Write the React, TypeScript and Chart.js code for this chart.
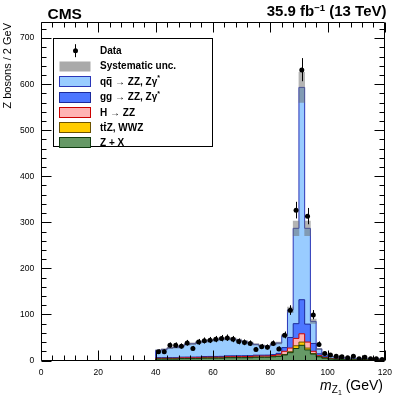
import React, { useEffect, useRef } from "react";
import { Chart, registerables } from "chart.js";

Chart.register(...registerables);

// ---------- data ----------
const binLow = [40, 42, 44, 46, 48, 50, 52, 54, 56, 58, 60, 62, 64, 66, 68, 70, 72, 74, 76, 78,
  80, 82, 84, 86, 88, 90, 92, 94, 96, 98, 100, 102, 104, 106, 108, 110, 112, 114, 116, 118];
const binWidth = 2;

const dataCounts = [19, 19, 33, 33, 31, 38, 26, 40, 43, 44, 46, 48, 49, 46, 41, 39, 37, 24, 30, 29,
  37, 25, 55, 109, 326, 631, 313, 99, 35, 15, 12, 9, 8, 6, 9, 4, 7, 4, 4, 2];

const qqZZ = [16, 18, 21, 22, 24, 28, 29, 32, 33, 35, 36, 38, 37, 37, 34, 31, 27.5, 23.4, 20.4, 19.3,
  22.1, 22.5, 26, 60, 207, 461, 208, 48, 10.5, 4.7, 4.3, 2.9, 2.6, 2.2, 2.3, 1.8, 1.4, 1.5, 1.6, 1.1];
const ggZZ = [1.5, 1.5, 1.5, 1.5, 1.6, 1.6, 1.6, 1.7, 1.7, 1.8, 1.8, 1.9, 1.9, 2, 2, 2, 2, 2, 2, 2,
  2, 3, 8, 23, 32, 74, 39, 17, 4, 2, 1, 1, 0.8, 0.8, 0.7, 0.7, 0.6, 0.6, 0.5, 0.5];
const hZZ = [1.5, 1.5, 1.5, 1.5, 1.5, 1.6, 1.6, 1.7, 1.7, 1.8, 1.8, 1.9, 2, 2, 2.1, 2.2, 2.3, 2.4, 2.4, 2.5,
  2.5, 3, 7, 8, 16, 18, 13, 5, 2, 1, 0.5, 0.4, 0.4, 0.3, 0.3, 0.3, 0.3, 0.2, 0.2, 0.2];
const ttZWWZ = [0.2, 0.2, 0.2, 0.2, 0.2, 0.2, 0.2, 0.2, 0.2, 0.2, 0.2, 0.2, 0.2, 0.2, 0.2, 0.2, 0.2, 0.2, 0.2, 0.2,
  0.4, 0.5, 1, 2, 6, 7, 4, 1, 0.5, 0.3, 0.2, 0.2, 0.2, 0.2, 0.2, 0.2, 0.2, 0.2, 0.2, 0.2];
const zPlusX = [3, 3, 3, 3, 4, 4, 4, 4, 5, 5, 5, 5, 6, 6, 6, 6, 6, 7, 7, 7,
  8, 9, 12, 17, 26, 33, 23, 14, 8, 5, 3, 2.5, 2, 2, 1.5, 1.5, 1.5, 1, 1, 1];
const sysFrac = 0.055;

const xMajorTicks = [0, 20, 40, 60, 80, 100, 120];
const yMajorTicks = [0, 100, 200, 300, 400, 500, 600, 700];
const xMinorStep = 4;
const yMinorStep = 20;
const xMax = 120;
const yMax = 735;

const legendLabels = ["Data", "Systematic unc.", "qq → ZZ, Zγ*", "gg → ZZ, Zγ*", "H → ZZ", "tt̄Z, WWZ", "Z + X"];

// ---------- styling ----------
const FF = '"Liberation Sans", Arial, Helvetica, sans-serif';
const COLORS = {
  qq: { fill: "#99ccff", line: "#2a36b8" },
  gg: { fill: "#4d76ff", line: "#1c2a9c" },
  h: { fill: "#ffb3b3", line: "#cc0000" },
  tt: { fill: "#ffcc00", line: "#6b5200" },
  zx: { fill: "#669966", line: "#0f3a0f" },
  sys: "rgba(105,105,105,0.5)",
};

function cumulate(...arrs: number[][]): number[] {
  return arrs[0].map((_, i) => arrs.reduce((s, a) => s + a[i], 0));
}

function stepPoints(vals: number[]) {
  const pts: { x: number; y: number }[] = [{ x: binLow[0], y: 0 }];
  vals.forEach((v, i) => pts.push({ x: binLow[i], y: v }));
  const last = binLow[binLow.length - 1] + binWidth;
  pts.push({ x: last, y: vals[vals.length - 1] });
  pts.push({ x: last, y: 0 });
  return pts;
}

type Seg = { t: string; font: string; dy?: number; bar?: number };

function segWidth(ctx: CanvasRenderingContext2D, segs: Seg[]) {
  let w = 0;
  for (const s of segs) {
    ctx.font = s.font;
    w += ctx.measureText(s.t).width;
  }
  return w;
}

function drawSegs(ctx: CanvasRenderingContext2D, x: number, y: number, segs: Seg[], align: "left" | "right") {
  ctx.textAlign = "left";
  ctx.textBaseline = "alphabetic";
  let cx = align === "right" ? x - segWidth(ctx, segs) : x;
  for (const s of segs) {
    ctx.font = s.font;
    ctx.fillText(s.t, cx, y + (s.dy || 0));
    const w = ctx.measureText(s.t).width;
    if (s.bar) {
      ctx.beginPath();
      ctx.lineWidth = 1;
      ctx.moveTo(cx + 0.8, Math.round(y - s.bar) + 0.5);
      ctx.lineTo(cx + w - 0.8, Math.round(y - s.bar) + 0.5);
      ctx.stroke();
    }
    cx += w;
  }
}

export default function App() {
  const ref = useRef<HTMLCanvasElement>(null);

  useEffect(() => {
    document.body.style.margin = "0";
    const canvas = ref.current!;
    const cZX = cumulate(zPlusX);
    const cTT = cumulate(zPlusX, ttZWWZ);
    const cH = cumulate(zPlusX, ttZWWZ, hZZ);
    const cGG = cumulate(zPlusX, ttZWWZ, hZZ, ggZZ);
    const cQQ = cumulate(zPlusX, ttZWWZ, hZZ, ggZZ, qqZZ);

    const histDS = (label: string, vals: number[], c: { fill: string; line: string }) => ({
      type: "line" as const,
      label,
      data: stepPoints(vals),
      stepped: true,
      fill: "origin",
      backgroundColor: c.fill,
      borderColor: c.line,
      borderWidth: 1,
      pointRadius: 0,
      pointHoverRadius: 0,
    });

    const framePlugin = {
      id: "frame",
      afterDatasetsDraw(chart: any) {
        const ctx: CanvasRenderingContext2D = chart.ctx;
        const xs = chart.scales.x;
        const ys = chart.scales.y;
        const ca = chart.chartArea;
        // error bars for data
        const meta = chart.getDatasetMeta(0);
        ctx.save();
        ctx.strokeStyle = "#000";
        ctx.lineWidth = 1;
        meta.data.forEach((pt: any, i: number) => {
          const n = dataCounts[i];
          const up = Math.sqrt(n + 0.25) + 0.5;
          const dn = Math.sqrt(n + 0.25) - 0.5;
          const px = Math.round(pt.x) + 0.5;
          ctx.beginPath();
          ctx.moveTo(px, ys.getPixelForValue(n + up));
          ctx.lineTo(px, ys.getPixelForValue(Math.max(0, n - dn)));
          ctx.stroke();
        });
        // frame
        const L = Math.floor(ca.left) + 0.5;
        const R = Math.floor(ca.right) + 0.5;
        const T = Math.floor(ca.top) + 0.5;
        const B = Math.floor(ca.bottom) + 0.5;
        ctx.beginPath();
        ctx.rect(L, T, R - L, B - T);
        ctx.stroke();
        // ticks
        ctx.beginPath();
        for (let v = 0; v <= xMax + 1e-6; v += xMinorStep) {
          const major = xMajorTicks.includes(v);
          const len = major ? 10 : 5;
          const px = Math.round(xs.getPixelForValue(v)) + 0.5;
          ctx.moveTo(px, B);
          ctx.lineTo(px, B - len);
          ctx.moveTo(px, T);
          ctx.lineTo(px, T + len);
        }
        for (let v = 0; v <= yMax; v += yMinorStep) {
          const major = yMajorTicks.includes(v);
          const len = major ? 10 : 5;
          const py = Math.round(ys.getPixelForValue(v)) + 0.5;
          ctx.moveTo(L, py);
          ctx.lineTo(L + len, py);
          ctx.moveTo(R, py);
          ctx.lineTo(R - len, py);
        }
        ctx.stroke();
        ctx.restore();
      },
      afterDraw(chart: any) {
        const ctx: CanvasRenderingContext2D = chart.ctx;
        ctx.save();
        ctx.fillStyle = "#000";
        ctx.strokeStyle = "#000";
        // CMS label
        ctx.font = `bold 15.5px ${FF}`;
        ctx.textAlign = "left";
        ctx.textBaseline = "alphabetic";
        ctx.fillText("CMS", 47.5, 18.5);
        // lumi
        drawSegs(ctx, 386.5, 16, [
          { t: "35.9 fb", font: `bold 15px ${FF}` },
          { t: "−1", font: `bold 9.5px ${FF}`, dy: -5.5 },
          { t: " (13 TeV)", font: `bold 15px ${FF}` },
        ], "right");
        // x title
        drawSegs(ctx, 383, 389.5, [
          { t: "m", font: `italic 14px ${FF}` },
          { t: "Z", font: `10px ${FF}`, dy: 3 },
          { t: "1", font: `7px ${FF}`, dy: 5.5 },
          { t: " (GeV)", font: `14px ${FF}` },
        ], "right");
        // y title
        ctx.save();
        ctx.translate(10.5, 23);
        ctx.rotate(-Math.PI / 2);
        ctx.font = `11px ${FF}`;
        ctx.textAlign = "right";
        ctx.textBaseline = "alphabetic";
        ctx.fillText("Z bosons / 2 GeV", 0, 0);
        ctx.restore();

        // legend
        const bx = 53.5, by = 38.5, bw = 159, bh = 108;
        ctx.fillStyle = "#fff";
        ctx.fillRect(bx, by, bw, bh);
        ctx.strokeStyle = "#000";
        ctx.lineWidth = 1;
        ctx.strokeRect(bx, by, bw, bh);
        const rows = [50.7, 65.5, 81, 96.5, 112, 127, 142];
        const swX = 59.5, swW = 31, swH = 10;
        const textX = 100;
        const fnt = `bold 10px ${FF}`;
        // Data marker
        ctx.fillStyle = "#000";
        ctx.beginPath();
        ctx.moveTo(75.5, rows[0] - 6.5);
        ctx.lineTo(75.5, rows[0] + 6.5);
        ctx.stroke();
        ctx.beginPath();
        ctx.arc(75.5, rows[0], 2.5, 0, Math.PI * 2);
        ctx.fill();
        // swatches
        const sw = [
          { fill: "#aaaaaa", line: null as string | null },
          { fill: COLORS.qq.fill, line: COLORS.qq.line },
          { fill: COLORS.gg.fill, line: COLORS.gg.line },
          { fill: COLORS.h.fill, line: COLORS.h.line },
          { fill: COLORS.tt.fill, line: COLORS.tt.line },
          { fill: COLORS.zx.fill, line: COLORS.zx.line },
        ];
        sw.forEach((s, k) => {
          const cy = Math.round(rows[k + 1] - swH / 2) + 0.5;
          ctx.fillStyle = s.fill;
          ctx.fillRect(swX, cy, swW, swH);
          if (s.line) {
            ctx.strokeStyle = s.line;
            ctx.strokeRect(swX, cy, swW, swH);
          }
        });
        ctx.fillStyle = "#000";
        ctx.strokeStyle = "#000";
        const bl = (r: number) => r + 3.6;
        drawSegs(ctx, textX, bl(rows[0]), [{ t: legendLabels[0], font: fnt }], "left");
        drawSegs(ctx, textX, bl(rows[1]), [{ t: legendLabels[1], font: fnt }], "left");
        drawSegs(ctx, textX, bl(rows[2]), [
          { t: "q", font: fnt },
          { t: "q", font: fnt, bar: 7.5 },
          { t: " → ZZ, Zγ", font: fnt },
          { t: "*", font: `bold 7px ${FF}`, dy: -4.5 },
        ], "left");
        drawSegs(ctx, textX, bl(rows[3]), [
          { t: "gg → ZZ, Zγ", font: fnt },
          { t: "*", font: `bold 7px ${FF}`, dy: -4.5 },
        ], "left");
        drawSegs(ctx, textX, bl(rows[4]), [{ t: legendLabels[4], font: fnt }], "left");
        drawSegs(ctx, textX, bl(rows[5]), [
          { t: "t", font: fnt },
          { t: "t", font: fnt, bar: 9 },
          { t: "Z, WWZ", font: fnt },
        ], "left");
        drawSegs(ctx, textX, bl(rows[6]), [{ t: legendLabels[6], font: fnt }], "left");
        ctx.restore();
      },
    };

    const chart = new Chart(canvas, {
      type: "line",
      data: {
        datasets: [
          {
            type: "line",
            label: "Data",
            data: binLow.map((x, i) => ({ x: x + binWidth / 2, y: dataCounts[i] })),
            showLine: false,
            pointRadius: 2.5,
            pointBackgroundColor: "#000",
            pointBorderWidth: 0,
            borderColor: "#000",
          } as any,
          {
            type: "bar",
            label: "Systematic unc.",
            data: binLow.map((x, i) => ({ x: x + binWidth / 2, y: [cQQ[i] * (1 - sysFrac), cQQ[i] * (1 + sysFrac)] })),
            backgroundColor: COLORS.sys,
            borderWidth: 0,
            barPercentage: 1,
            categoryPercentage: 1,
            grouped: false,
          } as any,
          histDS("Z + X", cZX, COLORS.zx),
          histDS("ttZ, WWZ", cTT, COLORS.tt),
          histDS("H → ZZ", cH, COLORS.h),
          histDS("gg → ZZ", cGG, COLORS.gg),
          histDS("qq → ZZ", cQQ, COLORS.qq),
        ],
      },
      options: {
        animation: false,
        responsive: false,
        devicePixelRatio: 1,
        layout: { padding: { top: 22, right: 12.5, bottom: 0, left: 0 } },
        plugins: { legend: { display: false }, tooltip: { enabled: false } },
        events: [],
        scales: {
          x: {
            type: "linear",
            min: 0,
            max: xMax,
            offset: false,
            grid: { display: false, drawTicks: false },
            border: { display: false },
            ticks: { font: { family: FF, size: 8.5 }, color: "#000", padding: 7, maxRotation: 0, autoSkip: false },
            afterBuildTicks: (axis: any) => {
              axis.ticks = xMajorTicks.map((v) => ({ value: v }));
            },
            afterFit: (axis: any) => {
              axis.height = 38.5;
            },
          },
          y: {
            type: "linear",
            min: 0,
            max: yMax,
            grid: { display: false, drawTicks: false },
            border: { display: false },
            ticks: { font: { family: FF, size: 8.5 }, color: "#000", padding: 6.7, autoSkip: false },
            afterBuildTicks: (axis: any) => {
              axis.ticks = yMajorTicks.map((v) => ({ value: v }));
            },
            afterFit: (axis: any) => {
              axis.width = 41;
            },
          },
        },
      } as any,
      plugins: [framePlugin],
    });
    return () => chart.destroy();
  }, []);

  return (
    <div style={{ position: "fixed", left: 0, top: 0, width: 399, height: 399, background: "#fff" }}>
      <canvas ref={ref} width={399} height={399} style={{ width: 399, height: 399, display: "block" }} />
    </div>
  );
}
